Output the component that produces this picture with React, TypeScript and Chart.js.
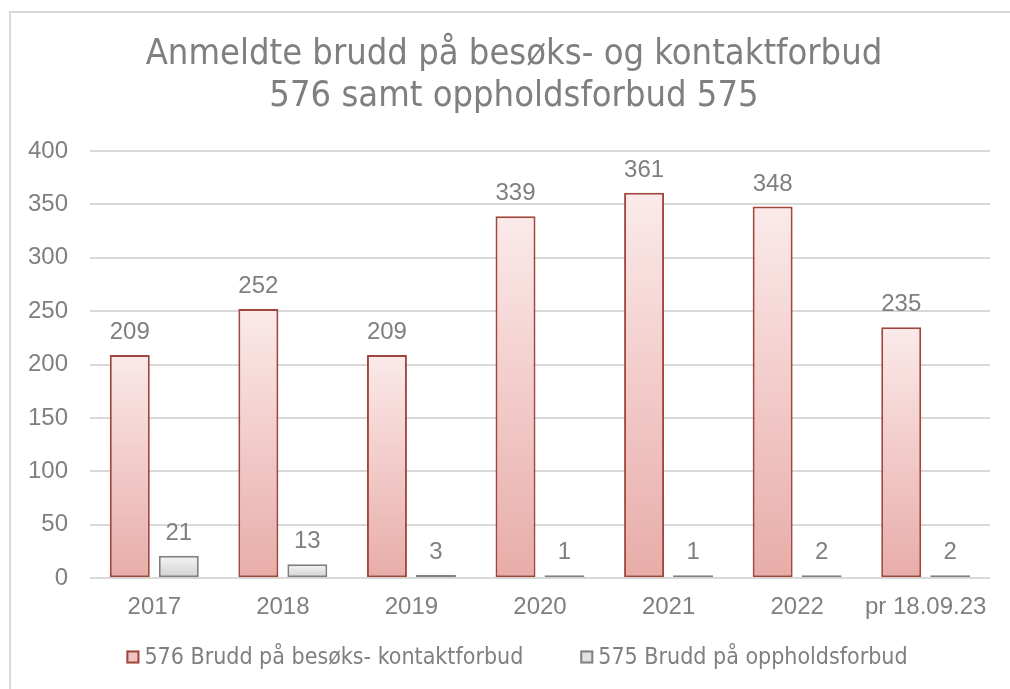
import React, { useEffect, useRef } from "react";
import { Chart, registerables } from "chart.js";

Chart.register(...registerables);

const categories = ["2017", "2018", "2019", "2020", "2021", "2022", "pr 18.09.23"];
const series576 = [209, 252, 209, 339, 361, 348, 235];
const series575 = [21, 13, 3, 1, 1, 2, 2];
const label576 = "576 Brudd på besøks- kontaktforbud";
const label575 = "575 Brudd på oppholdsforbud";
const titleLines = ["Anmeldte brudd på besøks- og kontaktforbud", "576 samt oppholdsforbud 575"];

const TEXT = "#7f7f7f";
const FONT = "'Liberation Sans', Arial, sans-serif";
const NARROW = "'Liberation Sans Narrow', 'DejaVu Sans Condensed', sans-serif";

const legendItems = [
  { text: label576, fill: "#f0c4c2", stroke: "#a0463c" },
  { text: label575, fill: "#e2e2e2", stroke: "#808080" },
];

function barGradient(ctx: any, top: string, bottom: string) {
  const chart = ctx.chart;
  const y = chart.scales?.y;
  if (!y || ctx.parsed == null || ctx.type !== "data") return bottom;
  const v = ctx.parsed.y;
  const y0 = y.getPixelForValue(0);
  const y1 = y.getPixelForValue(v);
  if (!isFinite(y0) || !isFinite(y1) || Math.abs(y0 - y1) < 1) return bottom;
  const g = chart.ctx.createLinearGradient(0, y1, 0, y0);
  g.addColorStop(0, top);
  g.addColorStop(1, bottom);
  return g;
}

const valueLabels = {
  id: "valueLabels",
  afterDatasetsDraw(chart: any) {
    const c = chart.ctx;
    c.save();
    c.fillStyle = TEXT;
    c.font = `24px ${FONT}`;
    c.textAlign = "center";
    c.textBaseline = "alphabetic";
    chart.data.datasets.forEach((ds: any, di: number) => {
      const meta = chart.getDatasetMeta(di);
      meta.data.forEach((el: any, i: number) => {
        c.fillText(String(ds.data[i]), el.x, el.y - 16);
      });
    });
    c.restore();
  },
};

const customTitle = {
  id: "customTitle",
  afterDraw(chart: any) {
    const c = chart.ctx;
    c.save();
    c.font = `36px ${NARROW}`;
    c.fillStyle = TEXT;
    c.textAlign = "center";
    c.textBaseline = "middle";
    titleLines.forEach((t, i) => c.fillText(t, 514, 55 + i * 42));
    c.restore();
  },
};

const customLegend = {
  id: "customLegend",
  afterDraw(chart: any) {
    const c = chart.ctx;
    c.save();
    c.font = `23px ${NARROW}`;
    const box = 13;
    const gap = 5;
    const itemGap = 57;
    const widths = legendItems.map((it) => box + gap + c.measureText(it.text).width);
    const total = widths.reduce((a, b) => a + b, 0) + itemGap * (legendItems.length - 1);
    let x = 517 - total / 2;
    const yc = 657;
    legendItems.forEach((it, i) => {
      c.fillStyle = it.fill;
      c.fillRect(x, yc - box / 2, box, box);
      c.strokeStyle = it.stroke;
      c.lineWidth = 2;
      c.strokeRect(x + 1, yc - box / 2 + 1, box - 2, box - 2);
      c.fillStyle = TEXT;
      c.textAlign = "left";
      c.textBaseline = "middle";
      c.fillText(it.text, x + box + gap, yc + 1);
      x += widths[i] + itemGap;
    });
    c.restore();
  },
};

export default function App() {
  const ref = useRef<HTMLCanvasElement>(null);
  useEffect(() => {
    if (!ref.current) return;
    const chart = new Chart(ref.current, {
      type: "bar",
      data: {
        labels: categories,
        datasets: [
          {
            label: label576,
            data: series576,
            backgroundColor: (ctx: any) => barGradient(ctx, "#fbeaea", "#e8aca8"),
            borderColor: "#a0463c",
            borderWidth: 2,
            borderSkipped: false,
            categoryPercentage: 0.762,
            barPercentage: 0.816,
          },
          {
            label: label575,
            data: series575,
            backgroundColor: (ctx: any) => barGradient(ctx, "#f4f4f4", "#d0d0d0"),
            borderColor: "#808080",
            borderWidth: 2,
            borderSkipped: false,
            minBarLength: 3,
            categoryPercentage: 0.762,
            barPercentage: 0.816,
          },
        ],
      },
      options: {
        animation: false,
        responsive: false,
        maintainAspectRatio: false,
        layout: { padding: { left: 8, right: 20, top: 151, bottom: 60 } },
        plugins: {
          title: { display: false },
          legend: { display: false },
          tooltip: { enabled: false },
        },
        scales: {
          x: {
            grid: { display: false },
            border: { display: false },
            ticks: { color: TEXT, font: { family: FONT, size: 24 }, padding: 7, maxRotation: 0, autoSkip: false },
          },
          y: {
            min: 0,
            max: 400,
            grid: { color: "#d9d9d9", lineWidth: 2, drawTicks: false },
            border: { display: false },
            ticks: { stepSize: 50, color: TEXT, font: { family: FONT, size: 24 }, padding: 22 },
            afterFit: (s: any) => {
              s.width = 82;
            },
          },
        },
      },
      plugins: [valueLabels, customTitle, customLegend],
    } as any);
    return () => chart.destroy();
  }, []);

  return (
    <div style={{ position: "absolute", left: 0, top: 0, width: 1010, height: 689, overflow: "hidden", background: "#fff" }}>
      <div style={{ position: "absolute", left: 9, top: 11, width: 1100, height: 800, border: "2px solid #d9d9d9", boxSizing: "border-box" }} />
      <canvas ref={ref} width={1010} height={689} style={{ position: "absolute", left: 0, top: 0 }} />
    </div>
  );
}
